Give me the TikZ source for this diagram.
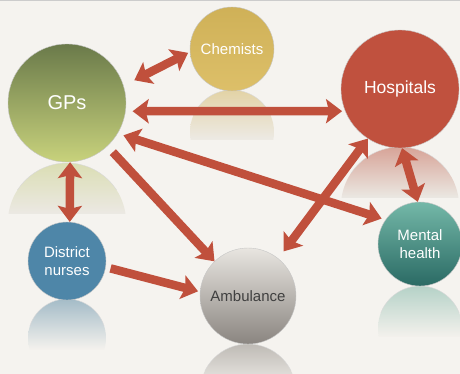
\documentclass[tikz,border=0pt]{standalone}
\usepackage{fontspec}
\setmainfont{Liberation Sans}
\usetikzlibrary{arrows.meta}

\definecolor{paper}{RGB}{234,231,225}
\definecolor{paperlight}{RGB}{245,243,239}
\definecolor{linkred}{RGB}{192,80,60}
\definecolor{gpdark}{RGB}{106,122,74}
\definecolor{gplight}{RGB}{200,210,124}
\definecolor{chemgold}{RGB}{218,186,92}
\definecolor{hospred}{RGB}{192,81,62}
\definecolor{mhlight}{RGB}{116,184,168}
\definecolor{mhdark}{RGB}{42,106,100}
\definecolor{dnblue}{RGB}{78,134,168}
\definecolor{amblight}{RGB}{232,229,224}
\definecolor{ambdark}{RGB}{138,133,128}

\tikzset{
  bigtip/.tip={Stealth[width=24pt,length=16pt,inset=3pt]},
  link/.style={draw=linkred, line width=8.5pt},
  both/.style={link, bigtip-bigtip},
  one/.style={link, -bigtip},
  ball/.style={circle, draw=gray!45, line width=0.4pt, inner sep=0pt,
    align=center, text=white, font=\fontsize{15}{18}\selectfont},
}

\begin{document}
\begin{tikzpicture}[x=1pt,y=-1pt]
  \useasboundingbox (0,0) rectangle (460,374);
  \shade[top color=paperlight, middle color=paper, bottom color=paperlight]
    (0,0) rectangle (460,374);
  \draw[line width=1.5pt, gray!40] (0,0.75) -- (460,0.75);

  % reflections (last value: how much of the darker paper lies under the faded end)
  \foreach \x/\y/\r/\c/\m in {67/222/59/gplight/87, 232/132/42/chemgold/74,
      400/206/59/hospred/96, 420/328/42/mhlight/21, 67/338/39/dnblue/14,
      248/392/48/ambdark/0} {
    \begin{scope}
      \clip (\x,\y) circle (\r pt);
      \shade[top color=\c!45!paper, middle color=\c!10!paper!\m!paperlight,
             bottom color=paper!\m!paperlight]
        (\x-\r,\y-\r) rectangle (\x+\r,\y-\r+50);
    \end{scope}
    \begin{scope}
      \clip (\x-\r-1,\y-\r-1) rectangle (\x+\r+1,\y-\r+26);
      \draw[gray!30, line width=0.4pt] (\x,\y) circle (\r pt);
    \end{scope}
  }

  \begin{scope}[every node/.style={ball}]
    \node (gp)   at (67,103)  [minimum size=118pt, top color=gpdark, bottom color=gplight,
                               font=\fontsize{20}{24}\selectfont] {GPs};
    \node (chem) at (232,49)  [minimum size=84pt, top color=chemgold!95!black,
                               bottom color=chemgold!92!white] {Chemists};
    \node (hosp) at (400,89)  [minimum size=118pt, fill=hospred,
                               font=\fontsize{17.5}{21}\selectfont] {Hospitals};
    \node (mh)   at (420,244) [minimum size=84pt, top color=mhlight, bottom color=mhdark] {Mental\\health};
    \node (dn)   at (67,261)  [minimum size=78pt, fill=dnblue] {District\\nurses};
    \node (amb)  at (248,296) [minimum size=96pt, top color=amblight, bottom color=ambdark,
                               text=black!75] {Ambulance};
  \end{scope}

  \path (gp.17)   edge[both, shorten <=12pt, shorten >=2pt] (chem.184);
  \path (gp.-8)   edge[both, shorten <=7pt, shorten >=3pt] (hosp.202);
  \path (gp.-31)  edge[both, shorten <=6pt, shorten >=4pt] (mh.145);
  \path (gp.-47)  edge[one, shorten <=8pt] (amb.134);
  \path (gp.-87)  edge[both] (dn.86);
  \path (dn.-9)   edge[one, shorten <=5pt, shorten >=2pt] (amb.175);
  \path (amb.51)  edge[both, shorten <=9pt] (hosp.237);
  \path (hosp.-88) edge[both] (mh.93);

\end{tikzpicture}
\end{document}
